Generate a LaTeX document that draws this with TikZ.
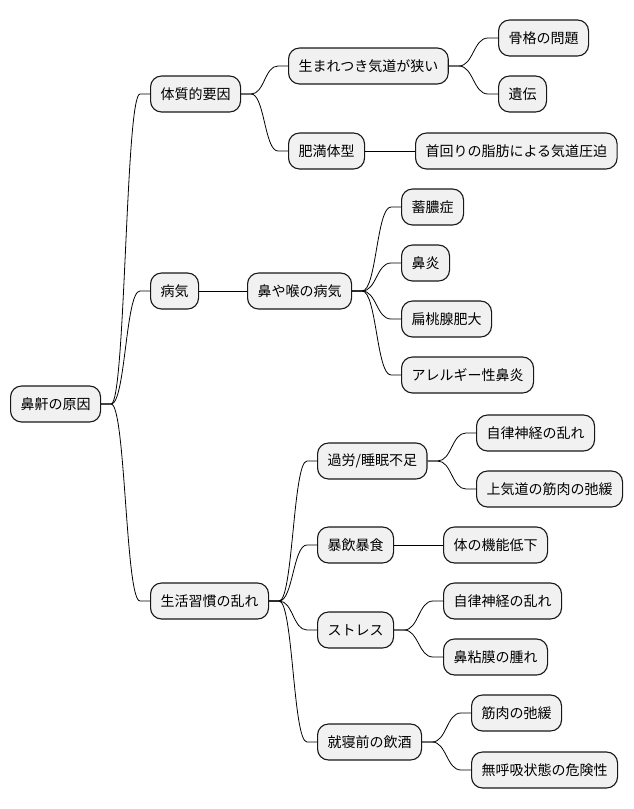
\documentclass[tikz,border=0pt]{standalone}
\usepackage{fontspec}
\newfontfamily\jpfont{Noto Sans CJK JP}
\usetikzlibrary{calc}
\definecolor{boxfill}{HTML}{F1F1F1}
\definecolor{boxline}{HTML}{181818}
\tikzset{
  mm/.style={draw=boxline, fill=boxfill, line width=1.1pt, rounded corners=11pt,
    minimum height=36pt, inner xsep=10pt, inner ysep=0pt, anchor=west,
    font=\jpfont\fontsize{14}{16}\selectfont, text=black},
  conn/.style={draw=black, line width=0.8pt}
}
\newcommand\mmlink[2]{%
  \path (#1.east) ++(10,0) coordinate (ls);
  \path (#2.west) ++(-10,0) coordinate (lt);
  \coordinate (lm) at ($(ls)!0.5!(lt)$);
  \draw[conn] (#1.east) -- (ls) .. controls (lm |- ls) and (lm |- lt) .. (lt) -- (#2.west);}
\begin{document}
\begin{tikzpicture}[x=1pt,y=-1pt]
\useasboundingbox (0,0) rectangle (633,809);
% root
\node[mm] (root) at (10,404) {鼻鼾の原因};
% level 1
\node[mm] (taishitsu) at (150,94) {体質的要因};
\node[mm] (byouki) at (150,291) {病気};
\node[mm] (seikatsu) at (150,601) {生活習慣の乱れ};
% level 2
\node[mm] (umare) at (288,66) {生まれつき気道が狭い};
\node[mm] (himan) at (288,151) {肥満体型};
\node[mm] (hananodo) at (247,291) {鼻や喉の病気};
\node[mm] (karou) at (317,461) {過労/睡眠不足};
\node[mm] (bouin) at (317,545) {暴飲暴食};
\node[mm] (stress) at (317,630) {ストレス};
\node[mm] (shuushin) at (317,742) {就寝前の飲酒};
% level 3
\node[mm] (kokkaku) at (498,38) {骨格の問題};
\node[mm] (iden) at (498,94) {遺伝};
\node[mm] (kubi) at (415,151) {首回りの脂肪による気道圧迫};
\node[mm] (chikunou) at (401,207) {蓄膿症};
\node[mm] (bien) at (401,263) {鼻炎};
\node[mm] (hentou) at (401,319) {扁桃腺肥大};
\node[mm] (allergy) at (401,375) {アレルギー性鼻炎};
\node[mm] (jiritsuA) at (476,433) {自律神経の乱れ};
\node[mm] (joukidou) at (476,489) {上気道の筋肉の弛緩};
\node[mm] (kinou) at (443,545) {体の機能低下};
\node[mm] (jiritsuB) at (443,601) {自律神経の乱れ};
\node[mm] (nenmaku) at (443,657) {鼻粘膜の腫れ};
\node[mm] (kinniku) at (471,713) {筋肉の弛緩};
\node[mm] (mukokyuu) at (471,770) {無呼吸状態の危険性};
% connectors
\mmlink{root}{taishitsu}
\mmlink{root}{byouki}
\mmlink{root}{seikatsu}
\mmlink{taishitsu}{umare}
\mmlink{taishitsu}{himan}
\draw[conn] (byouki) -- (hananodo);
\mmlink{seikatsu}{karou}
\mmlink{seikatsu}{bouin}
\mmlink{seikatsu}{stress}
\mmlink{seikatsu}{shuushin}
\mmlink{umare}{kokkaku}
\mmlink{umare}{iden}
\draw[conn] (himan) -- (kubi);
\mmlink{hananodo}{chikunou}
\mmlink{hananodo}{bien}
\mmlink{hananodo}{hentou}
\mmlink{hananodo}{allergy}
\mmlink{karou}{jiritsuA}
\mmlink{karou}{joukidou}
\draw[conn] (bouin) -- (kinou);
\mmlink{stress}{jiritsuB}
\mmlink{stress}{nenmaku}
\mmlink{shuushin}{kinniku}
\mmlink{shuushin}{mukokyuu}
\end{tikzpicture}
\end{document}
